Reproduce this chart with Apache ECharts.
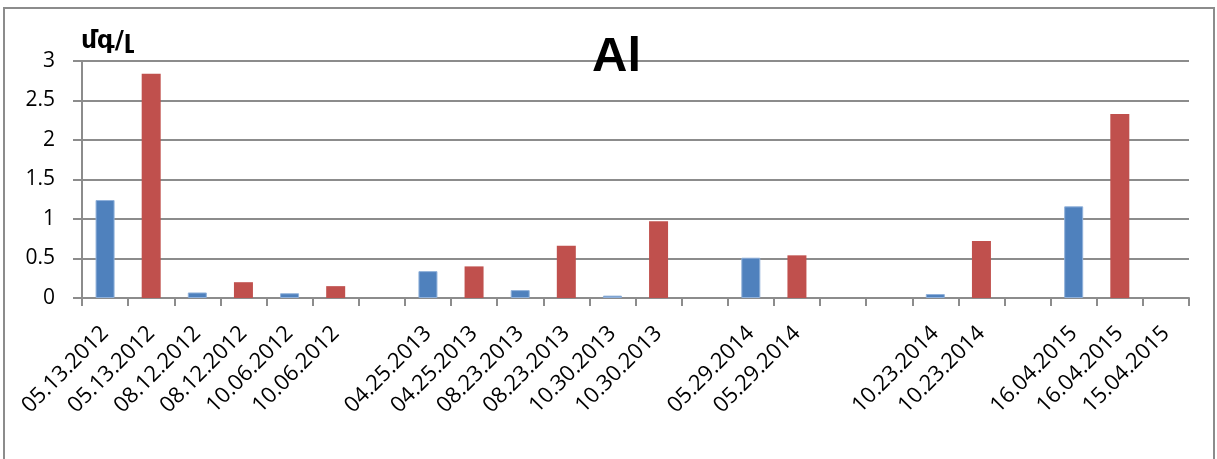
<!DOCTYPE html>
<html>
<head>
<meta charset="utf-8">
<script src="https://cdn.jsdelivr.net/npm/echarts@6/dist/echarts.min.js"></script>
<style>
html,body{margin:0;padding:0;background:#fff;}
#chart{width:1217px;height:459px;}
</style>
</head>
<body>
<div id="chart"></div>
<script>
const categories = ['05.13.2012','05.13.2012','08.12.2012','08.12.2012','10.06.2012','10.06.2012','',
  '04.25.2013','04.25.2013','08.23.2013','08.23.2013','10.30.2013','10.30.2013','',
  '05.29.2014','05.29.2014','','',
  '10.23.2014','10.23.2014','',
  '16.04.2015','16.04.2015','15.04.2015'];
const blueValues = [1.24,'-',0.07,'-',0.06,'-','-',
  0.34,'-',0.10,'-',0.03,'-','-',
  0.51,'-','-','-',
  0.05,'-','-',
  1.16,'-','-'];
const redValues = ['-',2.84,'-',0.20,'-',0.15,'-',
  '-',0.40,'-',0.66,'-',0.97,'-',
  '-',0.54,'-','-',
  '-',0.72,'-',
  '-',2.33,'-'];
const yTicks = [0,0.5,1,1.5,2,2.5,3];
const titleText = 'Al';
const unitText = 'մգ/լ';

const chart = echarts.init(document.getElementById('chart'), null, {renderer:'canvas'});
const grey = '#8c8c8c';
const font = '"Open Sans", "Liberation Sans", sans-serif';
chart.setOption({
  animation:false,
  backgroundColor:'#fff',
  title:{
    text:titleText, left:587, top:28,
    textStyle:{fontFamily:'"Liberation Sans Narrow","Liberation Sans",sans-serif', fontWeight:'bold', fontSize:49, color:'#000'}
  },
  graphic:[
    {type:'rect', shape:{x:4, y:8, width:1210, height:470}, style:{fill:null, stroke:grey, lineWidth:2}, silent:true},
    {type:'text', left:81, top:29, style:{text:unitText, font:'bold 25px "DejaVu Sans", sans-serif', fill:'#000'}}
  ],
  grid:{left:82, right:28, top:61, bottom:161, containLabel:false},
  xAxis:{
    type:'category', data:categories, boundaryGap:true,
    axisLine:{lineStyle:{color:grey, width:2}},
    axisTick:{show:true, length:8, lineStyle:{color:grey, width:2}, alignWithLabel:false, interval:0},
    axisLabel:{interval:0, rotate:45, margin:32, fontFamily:font, fontSize:22, color:'#000'},
    splitLine:{show:false}
  },
  yAxis:{
    type:'value', min:yTicks[0], max:yTicks[yTicks.length-1], interval:0.5,
    axisLine:{show:true, lineStyle:{color:grey, width:2}},
    axisTick:{show:true, length:9, lineStyle:{color:grey, width:2}},
    axisLabel:{margin:27, fontFamily:font, fontSize:21, color:'#000'},
    splitLine:{show:true, lineStyle:{color:grey, width:2}}
  },
  series:[
    {type:'bar', name:'blue', data:blueValues, stack:'s', barWidth:19,
     itemStyle:{color:'#4F81BD', borderColor:'#8fb0da', borderWidth:1}},
    {type:'bar', name:'red', data:redValues, stack:'s', barWidth:19,
     itemStyle:{color:'#C0504D'}}
  ]
});
</script>
</body>
</html>
